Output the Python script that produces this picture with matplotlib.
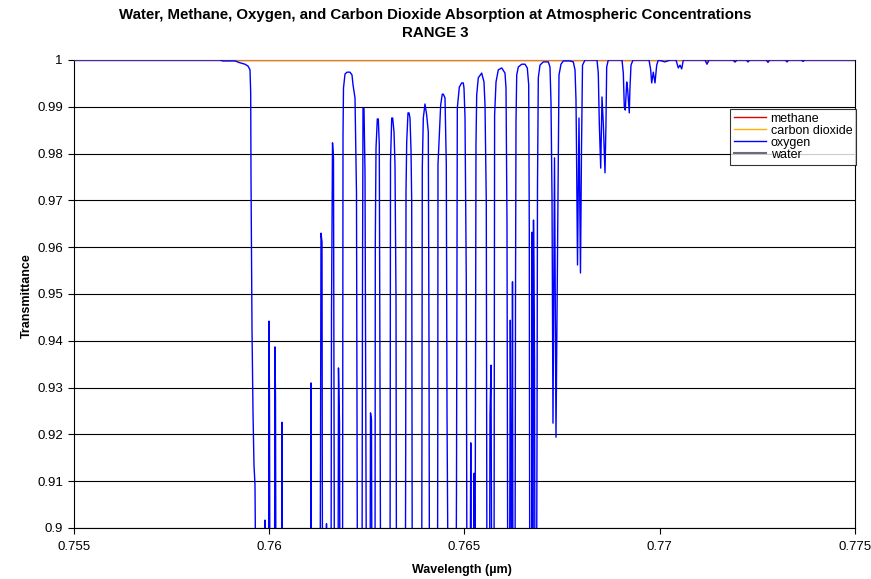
import numpy as np
import matplotlib
matplotlib.use('Agg')
import matplotlib.pyplot as plt
from matplotlib.lines import Line2D

plt.rcParams['font.family'] = ['Liberation Sans', 'DejaVu Sans']

B = 0.88  # below the visible range (clipped)

# Oxygen transmittance, wavelength in nm (converted to µm below)
wl_oxygen_nm = [
    755.000, 758.739, 758.816, 759.123, 759.251, 759.379, 759.456, 759.507, 759.525, 759.533, 759.558, 759.584, 759.609, 759.635, 759.661,
    759.878, 759.891, 759.904,
    759.981, 759.994, 760.006, 760.019,
    760.134, 760.147, 760.160, 760.173,
    760.314, 760.327, 760.339,
    761.056, 761.069, 761.082,
    761.300, 761.312, 761.325, 761.351, 761.364,
    761.453, 761.466, 761.479,
    761.581, 761.594, 761.620, 761.645, 761.658, 761.671,
    761.761, 761.773, 761.799, 761.812,
    761.876, 761.889, 761.901, 761.940, 761.991, 762.068, 762.119, 762.145, 762.196, 762.234, 762.260,
    762.375, 762.388, 762.401, 762.426, 762.452, 762.490,
    762.580, 762.593, 762.618, 762.631,
    762.708, 762.716, 762.734, 762.767, 762.793, 762.818, 762.854,
    763.092, 763.105, 763.136, 763.161, 763.195, 763.220, 763.246, 763.259,
    763.484, 763.494, 763.502, 763.520, 763.553, 763.579, 763.604, 763.630, 763.648, 763.663,
    763.904, 763.912, 763.919, 763.945, 763.988, 764.032, 764.073, 764.091, 764.104,
    764.308, 764.316, 764.321, 764.390, 764.431, 764.457, 764.501, 764.534, 764.552, 764.585,
    764.782, 764.795, 764.816, 764.867, 764.928, 764.969, 764.987, 765.013, 765.046, 765.064,
    765.141, 765.161, 765.179, 765.230, 765.248, 765.269,
    765.294, 765.312, 765.353, 765.440, 765.499, 765.525, 765.558, 765.576,
    765.640, 765.653, 765.679, 765.699,
    765.755, 765.763, 765.771, 765.807, 765.866, 765.953, 766.037, 766.063, 766.088, 766.109,
    766.152, 766.173, 766.191, 766.203, 766.216, 766.229, 766.242,
    766.293, 766.306, 766.319, 766.337, 766.378, 766.465, 766.549, 766.608, 766.644, 766.659, 766.672,
    766.716, 766.729, 766.741, 766.754, 766.767, 766.793, 766.805,
    766.844, 766.857, 766.869, 766.890, 766.933, 767.018, 767.146, 767.189, 767.215, 767.241,
    767.266, 767.305, 767.343, 767.402, 767.420,
    767.471, 767.530, 767.702, 767.786, 767.830, 767.855,
    767.868, 767.894, 767.932, 767.970, 767.996, 768.022,
    768.086, 768.393,
    768.426, 768.452, 768.488, 768.521, 768.554, 768.598, 768.623, 768.641, 768.682,
    769.033, 769.067, 769.092, 769.118, 769.154, 769.179, 769.220, 769.238, 769.264, 769.315,
    769.725, 769.768, 769.794, 769.835, 769.878, 769.922, 769.963,
    770.134, 770.263, 770.416, 770.475, 770.518, 770.562, 770.603,
    771.159, 771.210, 771.261,
    771.876, 771.927, 771.978,
    772.220, 772.260, 772.300,
    772.730, 772.772, 772.810,
    773.220, 773.259, 773.300,
    773.630, 773.668, 773.710,
    775.000]

t_oxygen = [
    1.0000, 1.0000, 0.9998, 0.9998, 0.9994, 0.9991, 0.9987, 0.9979, 0.9929, 0.9748, 0.9427, 0.9246, 0.9135, 0.9092, B,
    B, 0.9017, B,
    B, 0.9442, 0.9267, B,
    B, 0.9387, 0.9276, B,
    B, 0.9226, B,
    B, 0.9310, B,
    B, 0.9139, 0.9630, 0.9611, B,
    B, 0.9009, B,
    B, 0.9459, 0.9823, 0.9791, 0.9216, B,
    B, 0.9342, 0.9226, B,
    B, 0.9840, 0.9940, 0.9970, 0.9974, 0.9974, 0.9968, 0.9947, 0.9919, 0.9716, B,
    B, 0.9526, 0.9897, 0.9897, 0.9761, B,
    B, 0.9246, 0.9231, B,
    B, 0.9611, 0.9812, 0.9874, 0.9874, 0.9818, B,
    B, 0.9782, 0.9876, 0.9876, 0.9846, 0.9776, 0.9491, B,
    B, 0.9156, 0.9718, 0.9825, 0.9887, 0.9887, 0.9876, 0.9808, 0.9697, B,
    B, 0.9380, 0.9769, 0.9876, 0.9906, 0.9882, 0.9846, 0.9385, B,
    B, 0.9226, 0.9776, 0.9904, 0.9927, 0.9927, 0.9919, 0.9776, 0.9246, B,
    B, 0.9088, 0.9897, 0.9942, 0.9951, 0.9951, 0.9940, 0.9878, 0.9526, B,
    B, 0.9182, B, B, 0.9117, B,
    0.9818, 0.9925, 0.9962, 0.9972, 0.9953, 0.9904, 0.9697, B,
    B, 0.9241, 0.9348, B,
    B, 0.9295, 0.9882, 0.9953, 0.9979, 0.9983, 0.9972, 0.9940, 0.9654, B,
    B, 0.9444, 0.9173, B, B, 0.9526, B,
    B, 0.9487, 0.9868, 0.9968, 0.9985, 0.9991, 0.9991, 0.9983, 0.9947, 0.9641, B,
    B, 0.9632, B, B, 0.9658, 0.9365, B,
    B, 0.9188, 0.9726, 0.9962, 0.9989, 0.9996, 0.9996, 0.9985, 0.9910, 0.9705,
    0.9224, 0.9791, 0.9194, 0.9780, 0.9968,
    0.9991, 0.9998, 0.9998, 0.9996, 0.9979, 0.9915,
    0.9812, 0.9562, 0.9876, 0.9545, 0.9808, 0.9989,
    1.0000, 1.0000,
    0.9972, 0.9865, 0.9769, 0.9921, 0.9865, 0.9759, 0.9865, 0.9985, 1.0000,
    1.0000, 0.9972, 0.9900, 0.9893, 0.9953, 0.9936, 0.9887, 0.9942, 0.9989, 1.0000,
    1.0000, 0.9979, 0.9951, 0.9974, 0.9951, 0.9989, 1.0000,
    0.9996, 1.0000, 1.0000, 0.9983, 0.9989, 0.9981, 1.0000,
    1.0000, 0.9991, 1.0000,
    1.0000, 0.9996, 1.0000,
    1.0000, 0.9996, 1.0000,
    1.0000, 0.9995, 1.0000,
    1.0000, 0.9996, 1.0000,
    1.0000, 0.9997, 1.0000,
    1.0000]

wl_co2_nm = [755.000, 771.159, 771.210, 771.261, 771.876, 771.927, 771.978, 772.220, 772.260, 772.300,
             772.730, 772.772, 772.810, 773.220, 773.259, 773.300, 773.630, 773.668, 773.710, 775.000]
t_co2 = [1.0000, 1.0000, 0.9993, 1.0000, 1.0000, 0.9995, 1.0000, 1.0000, 0.9996, 1.0000,
         1.0000, 0.9995, 1.0000, 1.0000, 0.9996, 1.0000, 1.0000, 0.9997, 1.0000, 1.0000]

wl_methane_nm = [755.0, 775.0]
t_methane = [1.0, 1.0]
wl_water_nm = [755.0, 775.0]
t_water = [1.0, 1.0]

x_ticks = [0.755, 0.76, 0.765, 0.77, 0.775]
x_tick_labels = ['0.755', '0.76', '0.765', '0.77', '0.775']
y_ticks = [0.9, 0.91, 0.92, 0.93, 0.94, 0.95, 0.96, 0.97, 0.98, 0.99, 1.0]
y_tick_labels = ['0.9', '0.91', '0.92', '0.93', '0.94', '0.95', '0.96', '0.97', '0.98', '0.99', '1']

c_methane = '#E00000'
c_co2 = '#FFB000'
c_oxygen = '#0000FF'
c_water = '#6A6A80'

W, H = 871, 579
fig = plt.figure(figsize=(W / 100, H / 100), dpi=100)
ax = fig.add_axes([74 / W, 1 - 528 / H, (855 - 74) / W, (528 - 60) / H])

um = lambda a: np.asarray(a) / 1000.0
ax.plot(um(wl_water_nm), t_water, color=c_water, lw=0.8, zorder=2.9)
ax.plot(um(wl_methane_nm), t_methane, color=c_methane, lw=0.8, zorder=2.9)
ax.plot(um(wl_co2_nm), t_co2, color=c_co2, lw=1.0, zorder=3)
ax.plot(um(wl_oxygen_nm), t_oxygen, color=c_oxygen, lw=1.0, zorder=3.1)

ax.set_xlim(0.755, 0.775)
ax.set_ylim(0.9, 1.0)
ax.set_xticks(x_ticks)
ax.set_xticklabels(x_tick_labels)
ax.set_yticks(y_ticks)
ax.set_yticklabels(y_tick_labels)
ax.tick_params(direction='out', length=4, width=0.8, labelsize=9.5, colors='black')
ax.tick_params(axis='x', pad=5)
ax.tick_params(axis='y', pad=4)
ax.yaxis.grid(True, color='black', lw=0.8)
ax.set_axisbelow(True)
for s in ax.spines.values():
    s.set_color('black')
    s.set_linewidth(0.8)

fig.text(0.5, 1 - 15 / H, 'Water, Methane, Oxygen, and Carbon Dioxide Absorption at Atmospheric Concentrations',
         ha='center', va='center', fontsize=10.8, fontweight='bold')
fig.text(0.5, 1 - 33 / H, 'RANGE 3', ha='center', va='center', fontsize=10.8, fontweight='bold')
fig.text(27 / W, 1 - 296 / H, 'Transmittance', rotation=90, ha='center', va='center',
         fontsize=9, fontweight='bold')
fig.text(462 / W, 1 - 570 / H, 'Wavelength (µm)', ha='center', va='center',
         fontsize=9, fontweight='bold')

handles = [Line2D([], [], color=c_methane, lw=1),
           Line2D([], [], color=c_co2, lw=1),
           Line2D([], [], color=c_oxygen, lw=1),
           Line2D([], [], color=c_water, lw=1.5)]
labels = ['methane', 'carbon dioxide', 'oxygen', 'water']
leg = fig.legend(handles, labels, loc='upper left', bbox_to_anchor=(730 / W, 1 - 109 / H),
                 fontsize=9, frameon=True, fancybox=False, edgecolor='black',
                 handlelength=2.6, handletextpad=0.35, borderpad=0.3, labelspacing=0.0,
                 borderaxespad=0)
leg.get_frame().set_linewidth(0.8)

fig.savefig('out.png', dpi=100)
